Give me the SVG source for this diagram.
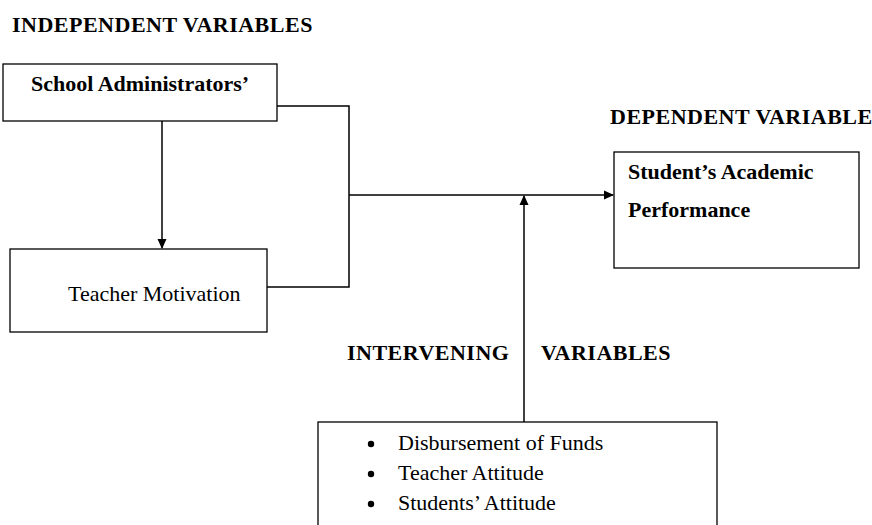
<svg xmlns="http://www.w3.org/2000/svg" width="872" height="525" viewBox="0 0 872 525">
<defs>
<marker id="ah" markerWidth="10" markerHeight="10" refX="9" refY="5" orient="auto" markerUnits="userSpaceOnUse">
<path d="M0,0.5 L10,5 L0,9.5 Z" fill="#000"/>
</marker>
<style>
.box{fill:#fff;stroke:#000;stroke-width:1.3}
.b{font-family:"Liberation Serif",serif;font-weight:bold;font-size:22px;fill:#000}
.h{letter-spacing:0.5px}
.r{font-family:"Liberation Serif",serif;font-size:22px;fill:#000}
.ln{fill:none;stroke:#000;stroke-width:1.5}
</style>
</defs>
<rect width="872" height="525" fill="#fff"/>
<text class="b h" x="12" y="32">INDEPENDENT VARIABLES</text>
<text class="b h" x="610" y="124">DEPENDENT VARIABLE</text>
<text class="b h" x="347" y="360">INTERVENING</text>
<text class="b h" x="541" y="360">VARIABLES</text>
<g id="connectors">
<line class="ln" x1="162" y1="121" x2="162" y2="248" marker-end="url(#ah)"/>
<polyline class="ln" points="277,106 349,106 349,287 267,287"/>
<line class="ln" x1="349" y1="195" x2="613" y2="195" marker-end="url(#ah)"/>
<line class="ln" x1="524" y1="422" x2="524" y2="196" marker-end="url(#ah)"/>
</g>
<g id="school-admin">
<rect class="box" x="3" y="64" width="274" height="57"/>
<text class="b" x="31" y="91">School Administrators’</text>
</g>
<g id="teacher-motivation">
<rect class="box" x="10" y="249" width="257" height="83"/>
<text class="r" x="68" y="301">Teacher Motivation</text>
</g>
<g id="academic-performance">
<rect class="box" x="614" y="152" width="245" height="116"/>
<text class="b" x="628" y="179">Student’s Academic</text>
<text class="b" x="628" y="217">Performance</text>
</g>
<g id="intervening">
<rect class="box" x="318" y="422" width="399" height="110"/>
<circle cx="371" cy="444" r="3.2"/>
<circle cx="371" cy="474" r="3.2"/>
<circle cx="371" cy="504" r="3.2"/>
<text class="r" x="398" y="450">Disbursement of Funds</text>
<text class="r" x="398" y="480">Teacher Attitude</text>
<text class="r" x="398" y="510">Students’ Attitude</text>
</g>
</svg>
